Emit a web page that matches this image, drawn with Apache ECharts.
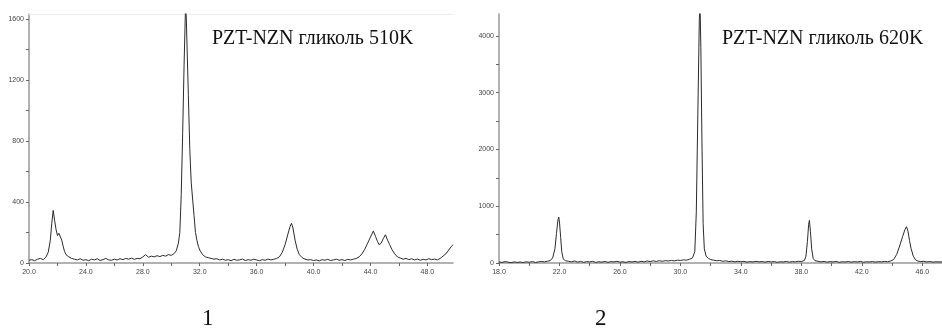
<!DOCTYPE html>
<html><head><meta charset="utf-8">
<script src="https://cdn.jsdelivr.net/npm/echarts@6/dist/echarts.min.js"></script>
<style>html,body{margin:0;padding:0;background:#fff}#c{width:942px;height:329px}</style>
</head><body><div id="c"></div>
<script>
// Left pattern: PZT-NZN гликоль 510K  [2θ, intensity]
const spectrum510 = [
[20.0,18],[20.2,22],[20.4,15],[20.6,25],[20.8,30],[21.0,22],[21.2,40],[21.35,70],[21.5,150],[21.6,260],[21.7,345],[21.8,280],[21.9,220],[22.0,180],[22.1,195],[22.2,205],[22.3,150],[22.4,110],[22.5,75],[22.6,55],[22.8,40],[23.0,30],[23.2,25],[23.4,20],[23.6,28],[23.8,18],[24.0,22],[24.2,15],[24.4,25],[24.6,20],[24.8,28],[25.0,16],[25.2,22],[25.4,30],[25.6,20],[25.8,18],[26.0,25],[26.2,20],[26.4,28],[26.6,22],[26.8,30],[27.0,25],[27.2,32],[27.4,24],[27.6,30],[27.8,28],[28.0,40],[28.2,55],[28.4,38],[28.6,45],[28.8,40],[29.0,48],[29.2,42],[29.4,50],[29.6,45],[29.8,55],[30.0,50],[30.2,62],[30.35,80],[30.5,130],[30.6,200],[30.7,450],[30.8,850],[30.9,1300],[31.0,1680],[31.05,1620],[31.1,1450],[31.2,1100],[31.3,750],[31.4,530],[31.5,420],[31.6,310],[31.7,200],[31.8,150],[31.9,110],[32.0,85],[32.2,55],[32.4,40],[32.6,35],[32.8,30],[33.0,25],[33.2,28],[33.4,20],[33.6,25],[33.8,18],[34.0,22],[34.2,15],[34.4,24],[34.6,18],[34.8,20],[35.0,26],[35.2,16],[35.4,22],[35.6,18],[35.8,25],[36.0,20],[36.2,15],[36.4,22],[36.6,18],[36.8,26],[37.0,20],[37.2,24],[37.4,30],[37.6,40],[37.8,70],[38.0,120],[38.2,190],[38.35,240],[38.45,260],[38.55,230],[38.7,150],[38.85,90],[39.0,55],[39.2,35],[39.4,25],[39.6,20],[39.8,22],[40.0,16],[40.2,20],[40.4,14],[40.6,22],[40.8,18],[41.0,24],[41.2,16],[41.4,20],[41.6,25],[41.8,18],[42.0,22],[42.2,16],[42.4,24],[42.6,20],[42.8,25],[43.0,30],[43.2,40],[43.4,60],[43.6,90],[43.8,130],[44.0,170],[44.2,210],[44.35,175],[44.5,140],[44.6,120],[44.75,130],[44.9,160],[45.05,185],[45.2,150],[45.35,120],[45.5,90],[45.7,60],[45.9,40],[46.1,32],[46.3,25],[46.5,30],[46.7,22],[46.9,28],[47.1,20],[47.3,26],[47.5,18],[47.7,24],[47.9,20],[48.1,28],[48.3,22],[48.5,26],[48.7,20],[48.9,30],[49.1,45],[49.3,60],[49.5,85],[49.7,110],[49.8,120]
];
// Right pattern: PZT-NZN гликоль 620K
const spectrum620 = [
[18.0,20],[18.2,10],[18.4,25],[18.6,15],[18.8,5],[19.0,20],[19.2,10],[19.4,18],[19.6,8],[19.8,22],[20.0,12],[20.2,25],[20.4,10],[20.6,18],[20.8,28],[21.0,20],[21.2,30],[21.4,45],[21.55,90],[21.7,250],[21.8,520],[21.9,760],[21.95,810],[22.0,720],[22.08,450],[22.15,200],[22.25,70],[22.4,40],[22.6,30],[22.8,20],[23.0,35],[23.2,15],[23.4,28],[23.6,12],[23.8,25],[24.0,18],[24.2,30],[24.4,10],[24.6,22],[24.8,15],[25.0,28],[25.2,12],[25.4,25],[25.6,18],[25.8,30],[26.0,15],[26.2,22],[26.4,10],[26.6,25],[26.8,18],[27.0,28],[27.2,15],[27.4,30],[27.6,20],[27.8,35],[28.0,25],[28.2,38],[28.4,28],[28.6,40],[28.8,30],[29.0,42],[29.2,35],[29.4,45],[29.6,38],[29.8,50],[30.0,45],[30.2,55],[30.4,50],[30.6,65],[30.8,90],[30.95,200],[31.05,900],[31.15,2600],[31.25,4300],[31.3,4500],[31.35,3800],[31.42,2200],[31.5,700],[31.58,250],[31.7,120],[31.85,80],[32.0,60],[32.2,50],[32.4,40],[32.6,45],[32.8,30],[33.0,38],[33.2,25],[33.4,32],[33.6,20],[33.8,30],[34.0,22],[34.2,28],[34.4,15],[34.6,25],[34.8,18],[35.0,30],[35.2,20],[35.4,26],[35.6,15],[35.8,28],[36.0,18],[36.2,25],[36.4,12],[36.6,22],[36.8,18],[37.0,28],[37.2,15],[37.4,25],[37.6,20],[37.8,30],[38.0,25],[38.2,45],[38.3,120],[38.4,380],[38.48,680],[38.53,750],[38.6,550],[38.68,250],[38.78,80],[38.9,40],[39.1,30],[39.3,20],[39.5,28],[39.7,15],[39.9,25],[40.1,18],[40.3,28],[40.5,12],[40.7,22],[40.9,18],[41.1,26],[41.3,15],[41.5,24],[41.7,18],[41.9,28],[42.1,14],[42.3,22],[42.5,18],[42.7,26],[42.9,15],[43.1,25],[43.3,20],[43.5,28],[43.7,22],[43.9,35],[44.1,60],[44.3,150],[44.5,300],[44.7,470],[44.85,590],[44.95,640],[45.05,560],[45.15,400],[45.25,260],[45.4,120],[45.55,55],[45.7,35],[45.9,25],[46.1,30],[46.3,18],[46.5,26],[46.7,15],[46.9,22],[47.1,18],[47.3,20]
];
const xLabels510 = [20,24,28,32,36,40,44,48];
const xTicks510 = [20,22,24,26,28,30,32,34,36,38,40,42,44,46,48];
const yLabels510 = [0,400,800,1200,1600];
const yTicks510 = [0,200,400,600,800,1000,1200,1400,1600];
const xLabels620 = [18,22,26,30,34,38,42,46];
const xTicks620 = [18,20,22,24,26,28,30,32,34,36,38,40,42,44,46];
const yLabels620 = [0,1000,2000,3000,4000];
const yTicks620 = [0,500,1000,1500,2000,2500,3000,3500,4000];
const title510 = 'PZT-NZN гликоль 510K';
const title620 = 'PZT-NZN гликоль 620K';

const chart = echarts.init(document.getElementById('c'));
const axLine = {show:true, lineStyle:{color:'#999', width:1.5}};
const lblStyle = {fontSize:7, color:'#444', fontFamily:'Arial'};
function xAx(grid, min, max, labels, ticks){
  return {type:'value', gridIndex:grid, min:min, max:max, interval:2,
    axisLine:axLine, splitLine:{show:false},
    axisTick:{show:true, inside:false, length:3, customValues:ticks, lineStyle:{color:'#666'}},
    axisLabel:Object.assign({customValues:labels, margin:6, formatter:v=>Number(v).toFixed(1)}, lblStyle)};
}
function yAx(grid, max, labels, ticks){
  return {type:'value', gridIndex:grid, min:0, max:max,
    axisLine:axLine, splitLine:{show:false},
    axisTick:{show:true, inside:false, length:3, customValues:ticks, lineStyle:{color:'#666'}},
    axisLabel:Object.assign({customValues:labels, margin:5, formatter:v=>String(v)}, lblStyle)};
}
const topAx = {type:'value', gridIndex:0, position:'top', min:20, max:49.8,
  axisLine:{show:true, lineStyle:{color:'#ececec', width:1}}, axisTick:{show:false}, axisLabel:{show:false}, splitLine:{show:false}};
chart.setOption({
  animation:false,
  grid:[{left:29, top:14, width:424, height:249},{left:499, top:14, width:443, height:249}],
  xAxis:[xAx(0,20,49.8,xLabels510,xTicks510), xAx(1,18,47.3,xLabels620,xTicks620), topAx],
  yAxis:[yAx(0,1633,yLabels510,yTicks510), yAx(1,4385,yLabels620,yTicks620)],
  series:[
    {type:'line', xAxisIndex:0, yAxisIndex:0, data:spectrum510, showSymbol:false, clip:true, lineStyle:{color:'#2b2b2b', width:1}},
    {type:'line', xAxisIndex:1, yAxisIndex:1, data:spectrum620, showSymbol:false, clip:true, lineStyle:{color:'#2b2b2b', width:1}}
  ],
  graphic:[
    {type:'text', left:212, top:29, style:{text:title510, font:'20px "Liberation Serif"', fill:'#111'}},
    {type:'text', left:722, top:29, style:{text:title620, font:'20px "Liberation Serif"', fill:'#111'}},
    {type:'text', left:202, top:307, style:{text:'1', font:'23px "Liberation Serif"', fill:'#111'}},
    {type:'text', left:595, top:307, style:{text:'2', font:'23px "Liberation Serif"', fill:'#111'}}
  ]
});
</script></body></html>
